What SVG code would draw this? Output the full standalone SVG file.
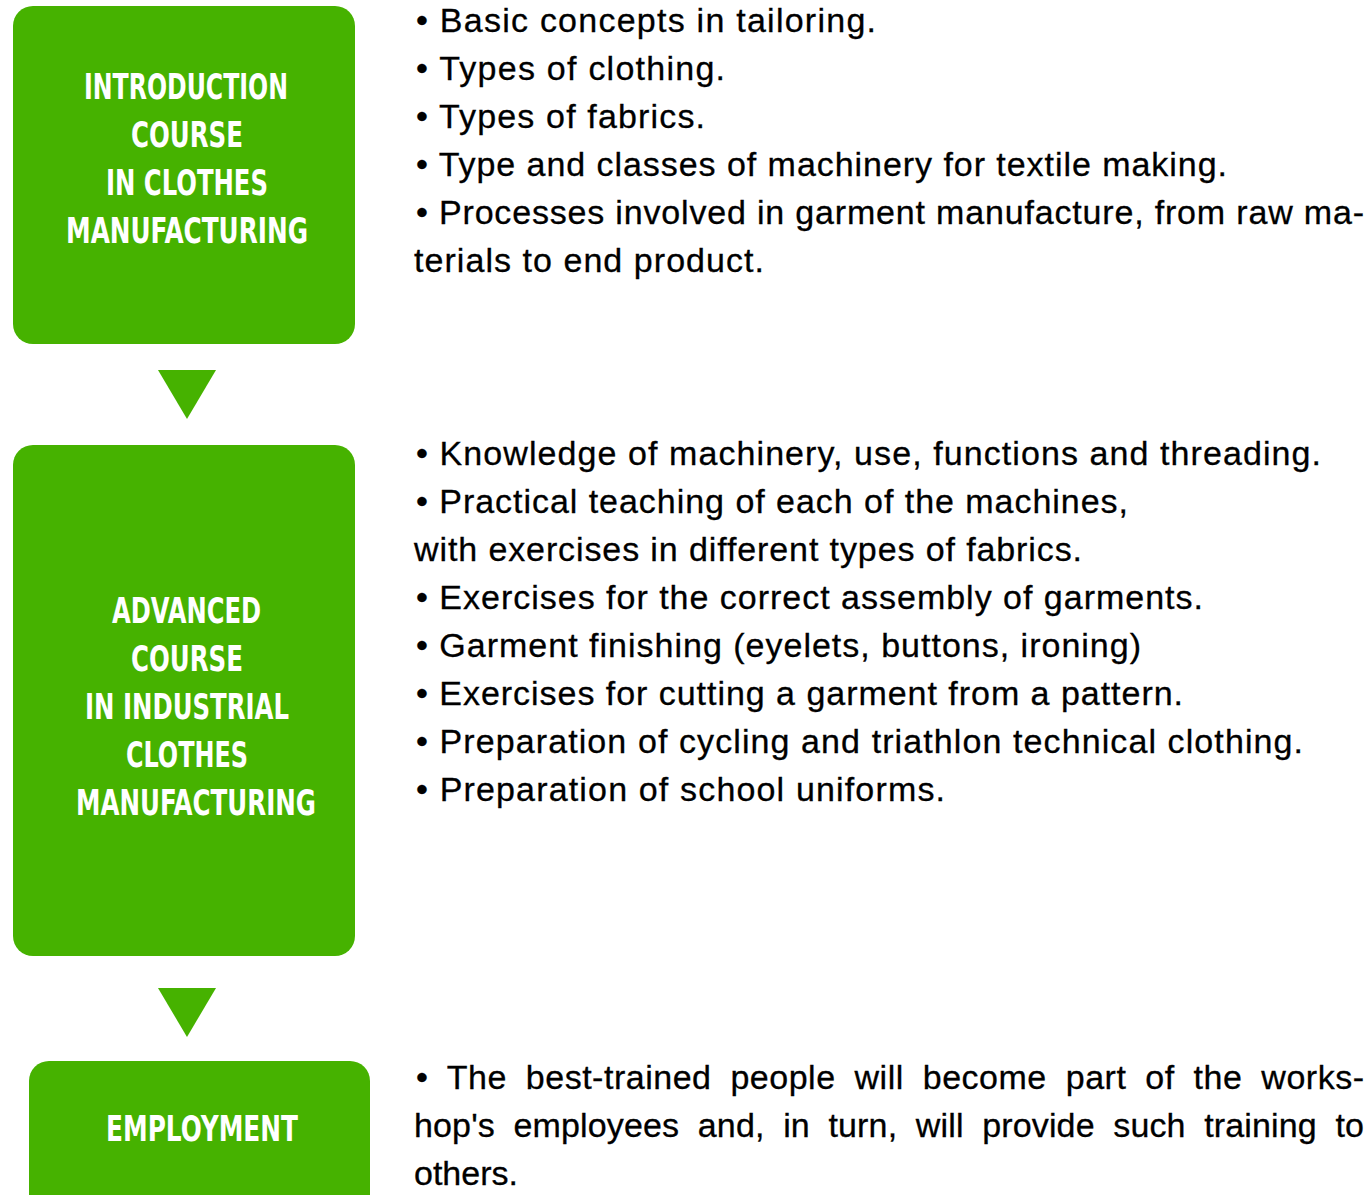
<svg xmlns="http://www.w3.org/2000/svg" width="1369" height="1195" viewBox="0 0 1369 1195">
  <style>
    .box { fill: #46b200; }
    .arrow { fill: #46b200; }
    .title { font-family: "Liberation Sans Narrow", "DejaVu Sans Condensed", "Liberation Sans", sans-serif; font-weight: bold; font-size: 36px; fill: #ffffff; }
    .body { font-family: "Liberation Sans", Arial, sans-serif; font-size: 34px; fill: #000000; stroke: #000000; stroke-width: 0.3px; }
    .just { word-spacing: 9px; }
  </style>
  <rect width="1369" height="1195" fill="#ffffff"/>

  <!-- step 1 -->
  <g id="intro-course">
    <rect class="box" x="13" y="6" width="342" height="338" rx="20" ry="20"/>
    <text class="title" x="84" y="99" textLength="204" lengthAdjust="spacingAndGlyphs">INTRODUCTION</text>
    <text class="title" x="131" y="147" textLength="112" lengthAdjust="spacingAndGlyphs">COURSE</text>
    <text class="title" x="106" y="195" textLength="162" lengthAdjust="spacingAndGlyphs">IN CLOTHES</text>
    <text class="title" x="66" y="243" textLength="242" lengthAdjust="spacingAndGlyphs">MANUFACTURING</text>
  </g>
  <g id="intro-topics">
    <text class="body" x="416" y="32" textLength="460" lengthAdjust="spacing">• Basic concepts in tailoring.</text>
    <text class="body" x="416" y="80" textLength="309" lengthAdjust="spacing">• Types of clothing.</text>
    <text class="body" x="416" y="128" textLength="289" lengthAdjust="spacing">• Types of fabrics.</text>
    <text class="body" x="416" y="176" textLength="811" lengthAdjust="spacing">• Type and classes of machinery for textile making.</text>
    <text class="body" x="416" y="224" textLength="948" lengthAdjust="spacing">• Processes involved in garment manufacture, from raw ma-</text>
    <text class="body" x="414" y="272" textLength="350" lengthAdjust="spacing">terials to end product.</text>
  </g>

  <!-- step 2 -->
  <g id="advanced-course">
    <rect class="box" x="13" y="445" width="342" height="511" rx="20" ry="20"/>
    <text class="title" x="112" y="623" textLength="149" lengthAdjust="spacingAndGlyphs">ADVANCED</text>
    <text class="title" x="131" y="671" textLength="112" lengthAdjust="spacingAndGlyphs">COURSE</text>
    <text class="title" x="85" y="719" textLength="204" lengthAdjust="spacingAndGlyphs">IN INDUSTRIAL</text>
    <text class="title" x="126" y="767" textLength="122" lengthAdjust="spacingAndGlyphs">CLOTHES</text>
    <text class="title" x="76" y="815" textLength="240" lengthAdjust="spacingAndGlyphs">MANUFACTURING</text>
  </g>
  <g id="advanced-topics">
    <text class="body" x="416" y="465" textLength="905" lengthAdjust="spacing">• Knowledge of machinery, use, functions and threading.</text>
    <text class="body" x="416" y="513" textLength="712" lengthAdjust="spacing">• Practical teaching of each of the machines,</text>
    <text class="body" x="414" y="561" textLength="668" lengthAdjust="spacing">with exercises in different types of fabrics.</text>
    <text class="body" x="416" y="609" textLength="787" lengthAdjust="spacing">• Exercises for the correct assembly of garments.</text>
    <text class="body" x="416" y="657" textLength="725" lengthAdjust="spacing">• Garment finishing (eyelets, buttons, ironing)</text>
    <text class="body" x="416" y="705" textLength="767" lengthAdjust="spacing">• Exercises for cutting a garment from a pattern.</text>
    <text class="body" x="416" y="753" textLength="887" lengthAdjust="spacing">• Preparation of cycling and triathlon technical clothing.</text>
    <text class="body" x="416" y="801" textLength="529" lengthAdjust="spacing">• Preparation of school uniforms.</text>
  </g>

  <!-- step 3 -->
  <g id="employment">
    <rect class="box" x="29" y="1061" width="341" height="160" rx="20" ry="20"/>
    <text class="title" x="106" y="1141" textLength="192" lengthAdjust="spacingAndGlyphs">EMPLOYMENT</text>
  </g>
  <g id="employment-note">
    <text class="body just" x="416" y="1089" textLength="948" lengthAdjust="spacing">• The best-trained people will become part of the works-</text>
    <text class="body just" x="414" y="1137" textLength="950" lengthAdjust="spacing">hop's employees and, in turn, will provide such training to</text>
    <text class="body" x="414" y="1185">others.</text>
  </g>

  <!-- flow arrows between the steps -->
  <g id="connectors">
    <polygon class="arrow" points="158,370 216,370 187,419"/>
    <polygon class="arrow" points="158,988 216,988 187,1037"/>
  </g>
</svg>
